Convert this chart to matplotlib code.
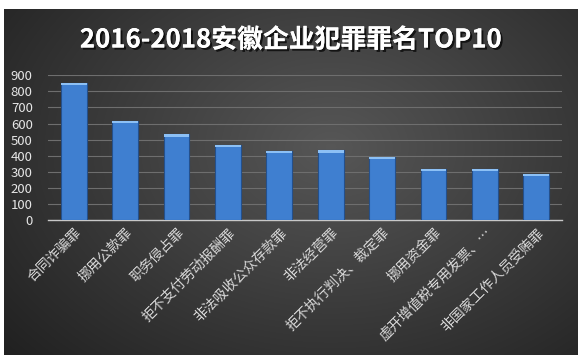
import numpy as np
import matplotlib
matplotlib.use('Agg')
import matplotlib.pyplot as plt
import matplotlib.patheffects as pe

plt.rcParams['font.family'] = ['Noto Sans CJK SC', 'DejaVu Sans']

title = '2016-2018安徽企业犯罪罪名TOP10'
categories = ['合同诈骗罪', '挪用公款罪', '职务侵占罪', '拒不支付劳动报酬罪', '非法吸收公众存款罪',
              '非法经营罪', '拒不执行判决、裁定罪', '挪用资金罪', '虚开增值税专用发票、…', '非国家工作人员受贿罪']
counts = [855, 617, 532, 468, 430, 433, 393, 319, 319, 288]
yticks = [0, 100, 200, 300, 400, 500, 600, 700, 800, 900]

fig = plt.figure(figsize=(5.84, 3.64), dpi=100)
fig.patch.set_facecolor('white')

# 深色渐变背景
bg = fig.add_axes([4 / 584, 1 - 355 / 364, 574 / 584, 346 / 364])
yy, xx = np.mgrid[0:1:200j, 0:1:300j]
d = np.sqrt(((xx - 0.57) / 0.75) ** 2 + ((yy - 0.4) / 0.9) ** 2)
shade = np.clip(0.34 - 0.21 * d, 0.12, 0.34)
bg.imshow(np.dstack([shade] * 3), aspect='auto', extent=[0, 1, 0, 1], interpolation='bilinear')
bg.set_axis_off()

ax = fig.add_axes([48 / 584, 1 - 220 / 364, 514 / 584, 144.7 / 364])
ax.patch.set_alpha(0)
x = np.arange(len(categories))
ax.bar(x, counts, width=0.5, color='#3f7fd0', edgecolor='#24508c', linewidth=0.8, zorder=3)
# 顶部高光
cap = 14
ax.bar(x, [cap] * len(counts), bottom=[c - cap for c in counts], width=0.5,
       color='#8cc0f5', edgecolor='none', zorder=4)

ax.set_xlim(-0.5, len(categories) - 0.5)
ax.set_ylim(0, 900)
ax.set_yticks(yticks)
for s in ['top', 'right', 'left']:
    ax.spines[s].set_visible(False)
ax.spines['bottom'].set_color('#c8c8c8')
ax.spines['bottom'].set_linewidth(1.0)
ax.tick_params(axis='x', length=0, pad=4)
ax.tick_params(axis='y', length=0, pad=11, labelsize=9.5, labelcolor='#e6e6e6')
ax.set_axisbelow(True)
ax.grid(True, axis='y', color='#6e6e6e', linewidth=0.8)

ax.set_xticks(x)
ax.set_xticklabels(categories, rotation=45, ha='right', rotation_mode='anchor',
                   fontsize=10, color='#d8d8d8')

fig.text(291 / 584, 1 - 40 / 364, title, ha='center', va='center', fontsize=18.6,
         fontweight='bold', color='white',
         path_effects=[pe.withSimplePatchShadow(offset=(1.5, -1.5), shadow_rgbFace='black', alpha=0.7),
                       pe.Normal()])

fig.savefig('out.png', dpi=100, facecolor='white')
